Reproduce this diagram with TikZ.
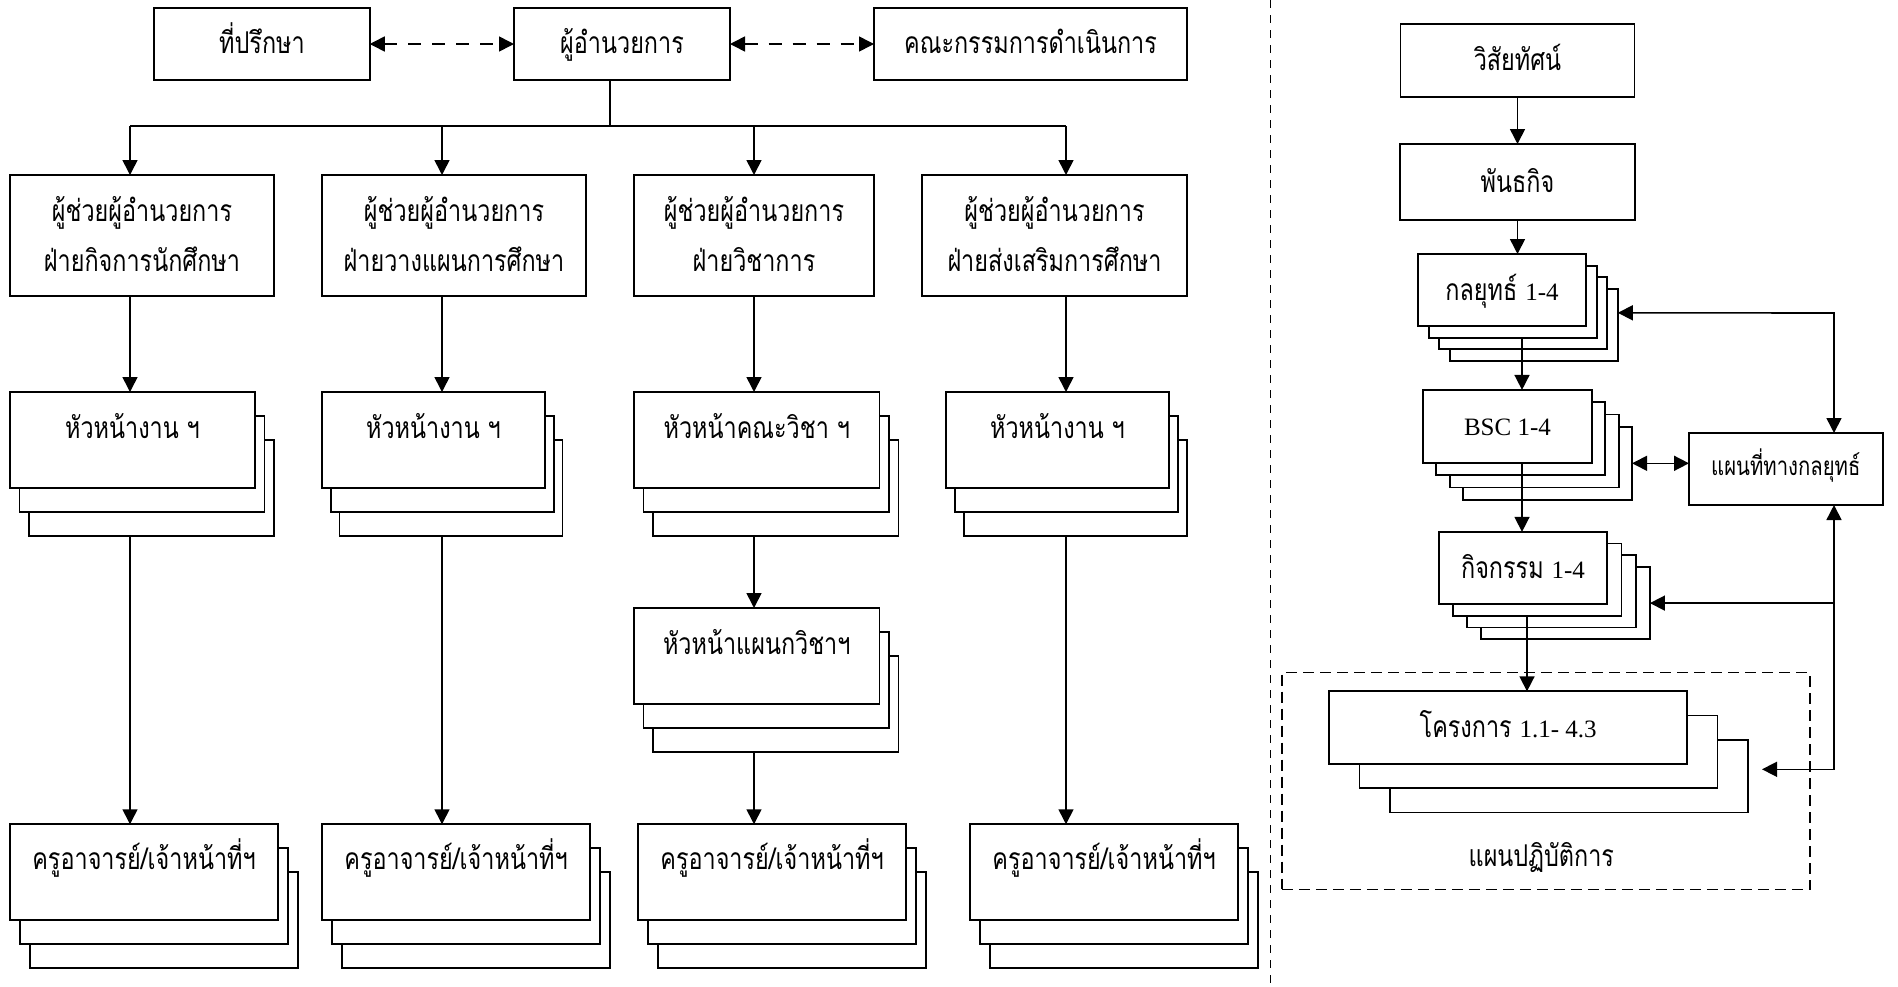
\documentclass[tikz,border=0pt]{standalone}
\usepackage{fontspec}
\setmainfont{Loma}[Script=Thai, FakeStretch=0.78]
\newfontfamily\latinserif{Liberation Serif}
\usetikzlibrary{arrows.meta}

% Latin words and figures are set in a Times-like serif
\newcommand\numtxt[1]{{\latinserif\fontsize{25}{30}\selectfont #1}}

\tikzset{
  pg/.style={draw, fill=white, line width=1.8pt, inner sep=0pt, outer sep=0pt},
  lbl/.style={anchor=base, inner sep=0pt, outer sep=0pt, font=\fontsize{30}{36}\selectfont},
  smalllbl/.style={lbl, font=\fontsize{26}{32}\selectfont},
  plain/.style={line width=1.6pt},
  conn/.style={plain, -{Triangle[length=15pt,width=15pt]}},
  both/.style={plain, {Triangle[length=15pt,width=15pt]}-{Triangle[length=15pt,width=15pt]}},
  dashlink/.style={both, dash pattern=on 13pt off 11pt},
  divider/.style={line width=1.6pt, dash pattern=on 8pt off 7pt},
  groupframe/.style={draw, line width=1.5pt, dash pattern=on 11pt off 6pt, inner sep=0pt, outer sep=0pt},
}

% stacked sheets: name, x, y, width, height, dx, dy, number of sheets behind
\newcommand\mkstack[8]{%
  \foreach \k in {#8,...,1}{%
    \node[pg, minimum width=#4pt, minimum height=#5pt] (#1-\k) at ({#2+\k*#6},{#3+\k*#7}) {};
  }%
  \node[pg, minimum width=#4pt, minimum height=#5pt] (#1) at (#2,#3) {};
}

\begin{document}
\begin{tikzpicture}[x=1pt,y=-1pt]
\useasboundingbox (0,0) rectangle (1898,986);

% ---------------- organisation chart ----------------
\node[pg, minimum width=215.5pt, minimum height=72pt] (adv) at (262,44) {};
\node[pg, minimum width=216pt, minimum height=72pt] (dir) at (622,44) {};
\node[pg, minimum width=313pt, minimum height=72pt] (com) at (1030.5,44) {};
\node[lbl] (advt) at ([yshift=-9pt]adv.center) {ที่ปรึกษา};
\node[lbl] (dirt) at ([yshift=-9pt]dir.center) {ผู้อำนวยการ};
\node[lbl] (comt) at ([yshift=-9pt]com.center) {คณะกรรมการดำเนินการ};

\draw[dashlink] (adv.east) -- (dir.west);
\draw[dashlink] (dir.east) -- (com.west);

% assistant directors
\node[pg, minimum width=264pt, minimum height=121pt] (a1) at (142,235.5) {};
\node[pg, minimum width=264pt, minimum height=121pt] (a2) at (454,235.5) {};
\node[pg, minimum width=240pt, minimum height=121pt] (a3) at (754,235.5) {};
\node[pg, minimum width=265pt, minimum height=121pt] (a4) at (1054.5,235.5) {};
\foreach \i/\dept in {1/ฝ่ายกิจการนักศึกษา, 2/ฝ่ายวางแผนการศึกษา, 3/ฝ่ายวิชาการ, 4/ฝ่ายส่งเสริมการศึกษา}{%
  \node[lbl] (a\i l1) at ([yshift=-46.5pt]a\i.north) {ผู้ช่วยผู้อำนวยการ};
  \node[lbl] (a\i l2) at ([yshift=-96.5pt]a\i.north) {\dept};
}

% heads of sections
\mkstack{h1}{132.5}{440}{245}{96}{9.5}{24}{2}
\mkstack{h2}{433.5}{440}{223}{96}{8.7}{24}{2}
\mkstack{h3}{756.75}{440}{245.5}{96}{9.5}{24}{2}
\mkstack{h4}{1057.5}{440}{223}{96}{9}{24}{2}
\mkstack{s3}{756.75}{656}{245.5}{96}{9.5}{24}{2}
\node[lbl] (h1t) at ([yshift=-46pt]h1.north) {หัวหน้างาน ฯ};
\node[lbl] (h2t) at ([yshift=-46pt]h2.north) {หัวหน้างาน ฯ};
\node[lbl] (h3t) at ([yshift=-46pt]h3.north) {หัวหน้าคณะวิชา ฯ};
\node[lbl] (h4t) at ([yshift=-46pt]h4.north) {หัวหน้างาน ฯ};
\node[lbl] (s3t) at ([yshift=-46.5pt]s3.north) {หัวหน้าแผนกวิชาฯ};

% teachers and staff
\mkstack{t1}{144}{872}{268}{95.5}{10}{24}{2}
\mkstack{t2}{456}{872}{268}{95.5}{10}{24}{2}
\mkstack{t3}{772}{872}{268}{95.5}{10}{24}{2}
\mkstack{t4}{1104}{872}{268}{95.5}{10}{24}{2}
\foreach \i in {1,2,3,4}{%
  \node[lbl] (t\i t) at ([yshift=-45pt]t\i.north) {ครูอาจารย์/เจ้าหน้าที่ฯ};
}

% tree connectors
\coordinate (bar) at (610,126);
\coordinate (k1) at (130,126);
\coordinate (k2) at (442,126);
\coordinate (k3) at (754,126);
\coordinate (k4) at (1066,126);
\draw[plain] (dir.south -| bar) -- (bar);
\draw[plain] (k1) -- (k4);
\foreach \i in {1,2,3,4}{%
  \draw[conn] (k\i) -- (k\i |- a\i.north);
  \draw[conn] (k\i |- a\i.south) -- (k\i |- h\i.north);
}
\foreach \i in {1,2,4}{%
  \draw[conn] (k\i |- h\i-2.south) -- (k\i |- t\i.north);
}
\draw[conn] (k3 |- h3-2.south) -- (k3 |- s3.north);
\draw[conn] (k3 |- s3-2.south) -- (k3 |- t3.north);

% ---------------- separator ----------------
\coordinate (dv1) at (1270.5,0);
\coordinate (dv2) at (1270.5,986);
\draw[divider] (dv1) -- (dv2);

% ---------------- strategy chain ----------------
\node[pg, minimum width=234pt, minimum height=73pt] (vis) at (1517.5,60.7) {};
\node[pg, minimum width=235pt, minimum height=76pt] (pan) at (1517.5,182) {};
\node[lbl] (vist) at ([yshift=-10pt]vis.center) {วิสัยทัศน์};
\node[lbl] (pant) at ([yshift=-10.5pt]pan.center) {พันธกิจ};

\mkstack{kly}{1502}{290}{168}{72}{10.6}{11.6}{3}
\node[lbl] (klyt) at ([yshift=-10pt]kly.center) {กลยุทธ์ \numtxt{1-4}};

\mkstack{bsc}{1507.4}{426.4}{169}{73}{13.4}{12.3}{3}
\node[lbl] (bsct) at ([yshift=-9pt]bsc.center) {\numtxt{BSC 1-4}};

\node[pg, minimum width=193.6pt, minimum height=72pt] (map) at (1785.8,469) {};
\node[smalllbl] (mapt) at ([yshift=-6pt]map.center) {แผนที่ทางกลยุทธ์};

\mkstack{kij}{1523}{568}{168.6}{72.3}{14.2}{11.7}{3}
\node[lbl] (kijt) at ([yshift=-10pt]kij.center) {กิจกรรม \numtxt{1-4}};

\node[groupframe, minimum width=528.2pt, minimum height=216.6pt] (plan) at (1545.9,781) {};
\node[lbl] (plant) at (1541.3,866.7) {แผนปฏิบัติการ};

\mkstack{proj}{1508.2}{727.7}{358}{72.7}{30.3}{24.2}{2}
\node[lbl] (projt) at ([yshift=-9.5pt]proj.center) {โครงการ \numtxt{1.1- 4.3}};

% chain arrows
\draw[conn] (vis.south) -- (pan.north);
\draw[conn] (pan.south) -- (pan.south |- kly.north);
\coordinate (kb) at ([xshift=20pt]kly.south);
\draw[conn] (kb |- kly-1.south) -- (kb |- bsc.north);
\coordinate (bk) at ([xshift=14.6pt]bsc.south);
\draw[conn] (bk) -- (bk |- kij.north);
\coordinate (kp) at ([xshift=4pt]kij.south);
\draw[conn] (kp |- kij-1.south) -- (kp |- proj.north);

% links with the strategy map
\draw[both] (bsc-3.east) -- (bsc-3.east -| map.west);
\coordinate (bus) at (1834,313);
\draw[both] ([yshift=12pt]kly-3.east) -- (bus) -- (bus |- map.north);
\coordinate (pend) at (1762,769.3);
\draw[both] (pend) -| (bus |- map.south);
\draw[conn] (bus |- kij-3.east) -- (kij-3.east);

\end{tikzpicture}
\end{document}
